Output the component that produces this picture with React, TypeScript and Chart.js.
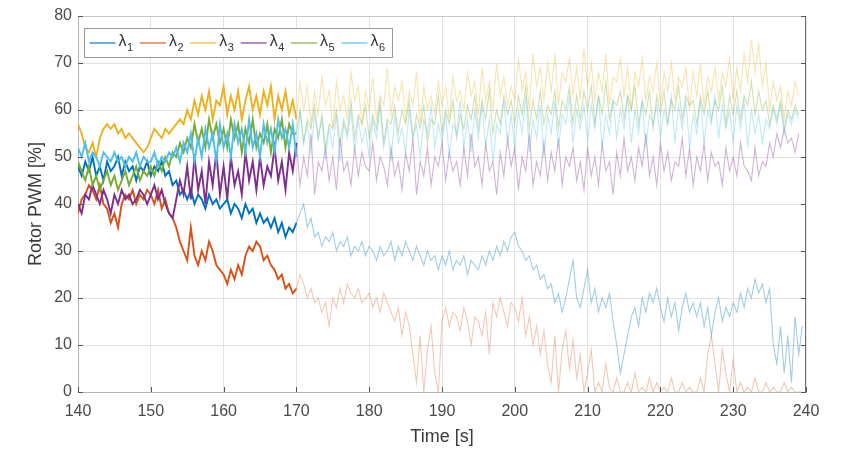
import React, { useEffect, useRef } from "react";
import { Chart, registerables } from "chart.js";

Chart.register(...registerables);

// ---- data ----
const startTime = 140; // s, first sample
const sampleStep = 0.5; // s between samples
const fadeIndex = 60; // sample index (170 s) after which the traces are drawn faded
const xTickValues = [140, 150, 160, 170, 180, 190, 200, 210, 220, 230, 240];
const yTickValues = [0, 10, 20, 30, 40, 50, 60, 70, 80];
const xTitle = "Time [s]";
const yTitle = "Rotor PWM [%]";
const legendBase = "λ";
const legendSubs = ["1", "2", "3", "4", "5", "6"];
const seriesRgb = [
  [0, 114, 189],
  [217, 83, 25],
  [237, 177, 32],
  [126, 47, 142],
  [119, 172, 48],
  [77, 190, 238],
];

const lambda1 = [
  48, 46, 49, 47, 50, 46, 48, 45, 49, 47,
  48, 50, 46, 49, 47, 48, 45, 48, 47, 49,
  46, 48, 47, 49, 46, 47, 44, 45, 42, 43,
  41, 43, 40, 42, 41, 39, 42, 40, 41, 39,
  40, 41, 38, 40, 39, 37, 40, 38, 39, 36,
  38, 36, 37, 35, 37, 34, 36, 33, 35, 34,
  36, 38, 40, 35, 37, 33, 34, 31, 33, 32,
  34, 30, 32, 31, 33, 29, 31, 30, 32, 29,
  31, 30, 28, 31, 29, 30, 32, 28, 31, 29,
  32, 30, 28, 31, 29, 27, 30, 28, 29, 26,
  29, 27, 30, 26, 28, 27, 29, 25, 28, 27,
  26, 29, 27, 30, 28, 31, 29, 32, 30, 33,
  34, 31, 30, 28, 29, 26, 27, 24, 25, 22,
  23, 19, 21, 17, 20, 24, 28, 20, 18, 22,
  26, 19, 22, 17, 20, 18, 21, 15, 10, 4,
  8, 12, 16, 18, 14, 20, 17, 21, 19, 22,
  18, 15, 20, 16, 19, 13, 18, 21, 17, 19,
  16, 19, 14, 18, 12, 17, 20, 15, 18, 16,
  19, 17, 21, 18, 22, 20, 24, 21, 23, 19,
  22, 10, 6, 14, 4, 12, 2, 16, 8, 14,
  null,
];

const lambda2 = [
  38, 41, 42, 44, 43, 41, 44, 40, 39, 36,
  38, 35, 40, 42, 41, 43, 40, 42, 41, 43,
  42, 40, 43, 39, 41, 38, 37, 35, 32, 30,
  28, 35, 29, 27, 30, 28, 32, 30, 27, 26,
  25, 23, 26, 24, 27, 25, 29, 31, 30, 32,
  31, 28, 29, 27, 26, 24, 25, 22, 23, 21,
  22, 25, 23, 20, 22, 19, 20, 17, 19, 14,
  20, 18, 22, 19, 23, 21, 20, 22, 19, 20,
  21, 18, 20, 17, 21, 19, 17, 15, 18, 12,
  17, 14, 8, 2, 12, 0, 9, 14, 4, 0,
  15, 18, 14, 17, 16, 13, 18, 15, 10, 16,
  15, 12, 17, 8, 19, 16, 20, 17, 14, 19,
  18, 15, 20, 12, 16, 10, 14, 8, 13, 6,
  2, 12, 0, 9, 13, 5, 11, 3, 8, 0,
  4, 9, 0, 2, 0, 6, 1, 0, 3, 0,
  0, 2, 0, 4, 0, 1, 0, 3, 0, 2,
  0, 1, 0, 3, 0, 0, 2, 0, 1, 0,
  0, 3, 0, 8, 12, 6, 0, 9, 4, 0,
  7, 0, 2, 0, 1, 0, 3, 0, 0, 2,
  0, 1, 0, 0, 2, 0, 1, 0, 0, 0,
  null,
];

const lambda3 = [
  57, 55, 52, 51, 53, 50, 54, 56, 57, 56,
  57, 55, 56, 54, 55, 54, 53, 52, 51, 52,
  54, 56, 55, 54, 56, 55, 56, 57, 58, 57,
  60, 58, 62, 59, 63, 60, 64, 58, 62, 61,
  65, 59, 63, 60, 64, 58, 62, 65, 60, 63,
  59, 64, 61, 65, 58, 63, 60, 64, 59, 62,
  58, 66, 60, 65, 57, 64, 59, 67, 61, 64,
  56, 66, 60, 63, 58, 68, 62, 65, 57, 64,
  60, 67, 58, 63, 61, 69, 59, 65, 62, 66,
  58, 64, 61, 68, 57, 65, 60, 63, 59, 66,
  61, 65, 58, 67, 62, 64, 60, 68, 63, 66,
  59, 69, 62, 66, 60, 70, 63, 67, 61, 65,
  62, 71, 64, 68, 60, 72, 65, 69, 62, 70,
  64, 72, 61, 68, 66, 71, 63, 69, 62, 73,
  65, 70, 62, 68, 64, 72, 61, 67, 66, 71,
  63, 69, 60, 68, 65, 71, 62, 67, 64, 70,
  61, 68, 64, 70, 62, 67, 65, 69, 60, 68,
  63, 70, 61, 67, 64, 69, 62, 68, 65, 71,
  62, 69, 64, 72, 66, 75, 68, 74, 65, 70,
  60, 66, 62, 65, 58, 64, 61, 66, 63, null,
  null,
];

const lambda4 = [
  40, 38, 42, 41, 44, 42, 40, 43, 41, 38,
  42, 40, 43, 41, 42, 40, 41, 43, 42, 40,
  42, 44, 41, 43, 40, 38, 37, 41, 45, 42,
  48, 41, 50, 43, 47, 40, 49, 44, 51, 42,
  48, 41, 50, 44, 47, 42, 51, 45, 49, 43,
  50, 44, 48, 46, 52, 45, 49, 43, 51, 47,
  53, 44, 50, 46, 55, 42, 49, 47, 52, 45,
  50, 43, 54, 47, 49, 44, 52, 46, 51, 48,
  47, 53, 45, 50, 48, 44, 52, 46, 49, 43,
  51, 47, 54, 42, 49, 46, 52, 44, 50, 48,
  53, 45, 51, 47, 49, 44, 52, 46, 55, 48,
  50, 44, 53, 47, 49, 42, 51, 46, 54, 48,
  52, 43, 50, 47, 55, 44, 49, 46, 53, 45,
  51, 47, 54, 44, 50, 48, 52, 45, 49, 43,
  52, 46, 50, 44, 53, 47, 49, 42, 51, 46,
  54, 47, 50, 45, 52, 48, 55, 46, 50, 44,
  53, 47, 51, 45, 49, 48, 54, 46, 52, 44,
  50, 47, 53, 45, 51, 48, 49, 44, 52, 47,
  50, 46, 53, 48, 47, 45, 52, 46, 49, 48,
  53, 50, 55, 52, 56, 53, 54, 51, 55, null,
  null,
];

const lambda5 = [
  49, 47, 45, 48, 44, 46, 43, 45, 47, 44,
  46, 43, 45, 47, 44, 46, 48, 45, 47, 46,
  48, 46, 49, 47, 50, 48, 51, 50, 53, 51,
  54, 52, 57, 53, 56, 52, 58, 54, 57, 53,
  56, 52, 58, 54, 57, 51, 56, 53, 58, 52,
  55, 53, 57, 51, 56, 54, 58, 52, 57, 55,
  55, 60, 53, 58, 56, 61, 54, 59, 52, 57,
  56, 60, 53, 58, 55, 62, 54, 59, 57, 61,
  54, 59, 56, 62, 53, 58, 57, 61, 55, 60,
  57, 62, 54, 59, 56, 61, 53, 58, 57, 63,
  55, 60, 57, 62, 54, 59, 56, 61, 58, 63,
  56, 62, 58, 64, 55, 60, 57, 63, 59, 62,
  57, 63, 59, 65, 56, 62, 58, 64, 57, 61,
  59, 64, 56, 62, 60, 65, 57, 63, 58, 64,
  60, 65, 57, 63, 59, 66, 58, 62, 61, 64,
  58, 63, 60, 65, 57, 62, 59, 64, 56, 63,
  59, 64, 57, 62, 60, 65, 58, 63, 61, 62,
  57, 63, 59, 64, 58, 62, 60, 65, 57, 63,
  59, 64, 58, 63, 61, 66, 59, 64, 60, 62,
  57, 61, 58, 62, 56, 60, 58, 61, 59, null,
  null,
];

const lambda6 = [
  52, 50, 53, 49, 51, 50, 48, 51, 50, 49,
  51, 49, 50, 48, 50, 49, 51, 48, 50, 49,
  49, 51, 48, 50, 49, 51, 50, 52, 49, 53,
  51, 55, 49, 54, 50, 56, 52, 55, 49, 57,
  52, 55, 50, 57, 53, 56, 51, 58, 52, 55,
  50, 57, 53, 56, 51, 58, 54, 56, 52, 57,
  50, 60, 53, 57, 51, 59, 54, 58, 50, 56,
  52, 59, 49, 57, 54, 60, 51, 58, 53, 56,
  50, 58, 54, 61, 52, 57, 49, 59, 53, 56,
  51, 60, 54, 57, 50, 58, 55, 61, 52, 57,
  53, 59, 50, 57, 55, 62, 52, 58, 51, 60,
  54, 61, 52, 58, 49, 57, 55, 62, 53, 59,
  52, 60, 55, 63, 51, 58, 54, 61, 50, 59,
  55, 62, 52, 59, 57, 63, 53, 60, 56, 61,
  53, 61, 56, 63, 52, 59, 55, 62, 54, 60,
  56, 63, 53, 60, 55, 62, 52, 59, 57, 61,
  54, 60, 57, 63, 53, 61, 56, 62, 52, 59,
  55, 62, 53, 60, 57, 63, 54, 61, 56, 60,
  53, 61, 56, 62, 52, 60, 55, 59, 53, 58,
  56, 60, 57, 61, 55, 59, 57, 60, 58, null,
  null,
];

const allSeries = [lambda1, lambda2, lambda3, lambda4, lambda5, lambda6];

// ---- layout / style ----
const W = 846;
const H = 451;
const FONT = "'Liberation Sans', Arial, Helvetica, sans-serif";

const rgba = (c: number[], a: number) => `rgba(${c[0]},${c[1]},${c[2]},${a})`;

const toPoints = (vals: (number | null)[], from: number, to: number) => {
  const pts: { x: number; y: number | null }[] = [];
  for (let i = from; i <= to && i < vals.length; i++) {
    pts.push({ x: startTime + i * sampleStep, y: vals[i] });
  }
  return pts;
};

const framePlugin = {
  id: "matlabFrame",
  afterDraw(chart: any) {
    const { ctx, chartArea: a } = chart;
    ctx.save();
    ctx.lineWidth = 1;
    ctx.strokeStyle = "#c8c8c8";
    ctx.beginPath();
    ctx.moveTo(a.left, a.top + 0.5);
    ctx.lineTo(a.right, a.top + 0.5);
    ctx.stroke();
    ctx.strokeStyle = "#6e6e6e";
    ctx.beginPath();
    ctx.moveTo(a.right - 0.5, a.top);
    ctx.lineTo(a.right - 0.5, a.bottom);
    ctx.stroke();
    const xs = chart.scales.x;
    const ys = chart.scales.y;
    ctx.strokeStyle = "#555";
    ctx.beginPath();
    xTickValues.forEach((v) => {
      const px = Math.round(xs.getPixelForValue(v)) + 0.5;
      ctx.moveTo(px, a.bottom);
      ctx.lineTo(px, a.bottom - 5);
    });
    yTickValues.forEach((v) => {
      const py = Math.round(ys.getPixelForValue(v)) + 0.5;
      ctx.moveTo(a.left, py);
      ctx.lineTo(a.left + 5, py);
      ctx.moveTo(a.right, py);
      ctx.lineTo(a.right - 5, py);
    });
    ctx.stroke();

    const lx = a.left + 6.5;
    const ly = a.top + 12.5;
    const lw = 308;
    const lh = 29;
    ctx.fillStyle = "#ffffff";
    ctx.fillRect(lx, ly, lw, lh);
    ctx.strokeStyle = "#9a9a9a";
    ctx.strokeRect(lx, ly, lw, lh);
    const cy = ly + lh / 2;
    legendSubs.forEach((sub, k) => {
      const ix = lx + 5 + k * 50.4;
      ctx.strokeStyle = rgba(seriesRgb[k], 0.75);
      ctx.lineWidth = 1.5;
      ctx.beginPath();
      ctx.moveTo(ix, cy);
      ctx.lineTo(ix + 26, cy);
      ctx.stroke();
      ctx.fillStyle = "#333333";
      ctx.textBaseline = "middle";
      ctx.textAlign = "left";
      ctx.font = `16px ${FONT}`;
      ctx.fillText(legendBase, ix + 29, cy - 1);
      const bw = ctx.measureText(legendBase).width;
      ctx.font = `11px ${FONT}`;
      ctx.fillText(sub, ix + 29 + bw + 0.5, cy + 5);
    });
    ctx.restore();
  },
};

export default function App() {
  const ref = useRef<HTMLCanvasElement | null>(null);

  useEffect(() => {
    if (!ref.current) return;
    const datasets: any[] = [];
    allSeries.forEach((vals, k) => {
      datasets.push({
        label: legendBase + legendSubs[k],
        data: toPoints(vals, 0, fadeIndex),
        borderColor: rgba(seriesRgb[k], 1),
        backgroundColor: rgba(seriesRgb[k], 1),
        borderWidth: 1.9,
        pointRadius: 0,
        tension: 0,
        spanGaps: false,
        order: 7 - k,
      });
    });
    allSeries.forEach((vals, k) => {
      datasets.push({
        label: legendBase + legendSubs[k] + " (faded)",
        data: toPoints(vals, fadeIndex, vals.length - 1),
        borderColor: rgba(seriesRgb[k], k === 1 ? 0.32 : 0.36),
        backgroundColor: rgba(seriesRgb[k], 0.36),
        borderWidth: 1.1,
        pointRadius: 0,
        tension: 0,
        spanGaps: false,
        order: 13 - k,
      });
    });

    const chart = new Chart(ref.current, {
      type: "line",
      data: { datasets },
      options: {
        animation: false,
        responsive: false,
        maintainAspectRatio: false,
        devicePixelRatio: 1,
        layout: { padding: { top: 16, right: 40, left: 0, bottom: 0 } },
        plugins: {
          legend: { display: false },
          tooltip: { enabled: false },
        },
        scales: {
          x: {
            type: "linear",
            min: 140,
            max: 240,
            afterFit: (s: any) => {
              s.height = 59;
            },
            afterBuildTicks: (s: any) => {
              s.ticks = xTickValues.map((v) => ({ value: v }));
            },
            ticks: {
              color: "#4a4a4a",
              font: { family: FONT, size: 16 },
              padding: 10,
              maxRotation: 0,
              autoSkip: false,
            },
            grid: { color: "#e3e3e3", drawTicks: false, lineWidth: 1 },
            border: { color: "#b4b4b4" },
            title: {
              display: true,
              text: xTitle,
              color: "#3a3a3a",
              font: { family: FONT, size: 18 },
              padding: { top: 0, bottom: 3 },
            },
          },
          y: {
            type: "linear",
            min: 0,
            max: 80,
            afterFit: (s: any) => {
              s.width = 78;
            },
            afterBuildTicks: (s: any) => {
              s.ticks = yTickValues.map((v) => ({ value: v }));
            },
            ticks: {
              color: "#4a4a4a",
              font: { family: FONT, size: 16 },
              padding: 6,
              autoSkip: false,
            },
            grid: { color: "#e3e3e3", drawTicks: false, lineWidth: 1 },
            border: { color: "#b4b4b4" },
            title: {
              display: true,
              text: yTitle,
              color: "#3a3a3a",
              font: { family: FONT, size: 18 },
              padding: { top: 25, bottom: 0 },
            },
          },
        },
      },
      plugins: [framePlugin],
    });
    return () => chart.destroy();
  }, []);

  return (
    <div style={{ position: "absolute", left: 0, top: 0, width: W, height: H, background: "#fff" }}>
      <canvas ref={ref} width={W} height={H} style={{ display: "block", width: W, height: H }} />
    </div>
  );
}
